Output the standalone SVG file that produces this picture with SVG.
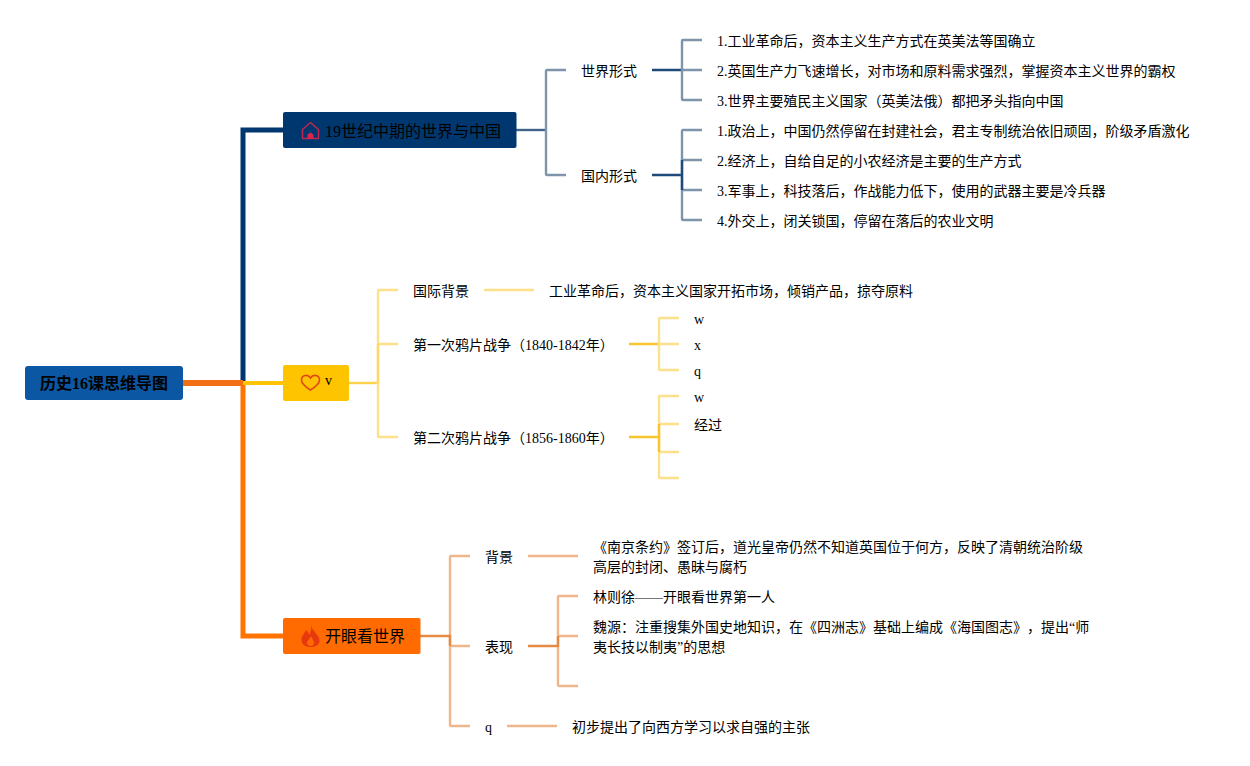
<svg xmlns="http://www.w3.org/2000/svg" width="1250" height="766" viewBox="0 0 1250 766">
<style>
text{font-family:"Liberation Serif","Noto Sans CJK SC",serif;font-size:14px;fill:#000;text-spacing-trim:space-all}
.t16{font-size:16px}
path{fill:none}
.n1{stroke:#7d94ab;stroke-width:2.400}
.n1d{stroke:#1d4a78;stroke-width:2.400}
.y1{stroke:#fde08a;stroke-width:2.400}
.y1d{stroke:#f9c52e;stroke-width:2.400}
.o1{stroke:#efb68c;stroke-width:2.400}
.o1d{stroke:#e58a42;stroke-width:2.400}
</style>
<rect width="1250" height="766" fill="#fff"/>
<g id="connectors">
<path d="M243 383V130H283" stroke="#00376f" stroke-width="5"/>
<path d="M243 383V636H283" stroke="#ff7300" stroke-width="5"/>
<path d="M243 383H283" stroke="#ffc400" stroke-width="4"/>
<path d="M183 383H243" stroke="#f36f13" stroke-width="6"/>
<path d="M516 130H546" stroke="#3f6389" stroke-width="2.400"/>
<path class="n1" d="M566 70H547Q546 70 546 71V174Q546 175 547 175H566"/>
<path class="n1d" d="M652 70H682M652 175H682"/>
<path class="n1" d="M702 40H683Q682 40 682 41V99Q682 100 683 100H702M682 70H702"/>
<path class="n1" d="M702 130H683Q682 130 682 131V219Q682 220 683 220H702M682 160H702M682 190H702"/>
<path class="n1d" d="M682 160V190"/>
<path d="M348 383H378" stroke="#fdd24f" stroke-width="2.400"/>
<path class="y1" d="M398 290H379Q378 290 378 291V436Q378 437 379 437H398M378 344H398"/>
<path d="M378 344V383" stroke="#fcd76a" stroke-width="2.400"/>
<path class="y1" d="M484 290H534"/>
<path class="y1d" d="M629 344H659M629 437H659"/>
<path class="y1" d="M679 318H660Q659 318 659 319V369Q659 370 660 370H679M659 344H679"/>
<path class="y1" d="M679 396H660Q659 396 659 397V477Q659 478 660 478H679M659 424H679M659 452H679"/>
<path class="y1d" d="M659 424V452"/>
<path class="o1" d="M470 556H451Q450 556 450 557V725Q450 726 451 726H470M450 646H470"/>
<path class="o1d" d="M420 636H450V646"/>
<path class="o1" d="M528 556H578"/>
<path class="o1" d="M578 596H559Q558 596 558 597V685Q558 686 559 686H578M558 636H578"/>
<path class="o1d" d="M528 646H558V636"/>
<path class="o1" d="M507 726H557"/>
</g>
<g id="root"><rect x="25" y="366" width="158" height="34" rx="3" fill="#0b57a4"/><text class="t16" x="104" y="389" text-anchor="middle" font-weight="bold">历史16课思维导图</text></g>
<g id="b1"><rect x="283" y="112" width="233.500" height="36" rx="2" fill="#00376f"/>
<path d="M302.500 138.500V129.500L310.500 122.500L318.500 129.500V138.500Z" stroke="#c2254f" stroke-width="1.500" stroke-linejoin="round"/><path d="M307.500 138.500V134.500L310.500 132.500L313.500 134.500V138.500Z" style="fill:#d9264f"/>
<text class="t16" x="325" y="137">19世纪中期的世界与中国</text></g>
<g id="b2"><rect x="283" y="365" width="66" height="36" rx="2" fill="#ffc400"/>
<path d="M310.500 390C304 386 301.500 383 301.500 380C301.500 374.500 308 374 310.500 378C313 374 319.500 374.500 319.500 380C319.500 383 317 386 310.500 390Z" stroke="#e0481a" stroke-width="1.600"/>
<text x="325" y="385">v</text></g>
<g id="b3"><rect x="283" y="618" width="137.500" height="36" rx="2" fill="#ff6b00"/>
<path fill-rule="evenodd" d="M311 625C312 631 319.500 635 319.500 640.500C319.500 644.500 316 647 310.500 647C305.500 647 301.500 644.500 301.500 639.500C301.500 635.500 304.500 634 306 630C308 632 309 633 309 635C311 632 311.500 629 311 625ZM311 636C310 639 307 640.500 307 643C307 645 308.500 646 310.500 646C312.500 646 314 645 314 643C314 640.500 312 639 311 636Z" style="fill:#e8380d"/>
<text class="t16" x="325" y="642">开眼看世界</text></g>
<g id="n1"><text x="581" y="76">世界形式</text></g>
<g id="n2"><text x="581" y="181">国内形式</text></g>
<g id="n3"><text x="717" y="46">1.工业革命后，资本主义生产方式在英美法等国确立</text></g>
<g id="n4"><text x="717" y="76">2.英国生产力飞速增长，对市场和原料需求强烈，掌握资本主义世界的霸权</text></g>
<g id="n5"><text x="717" y="106">3.世界主要殖民主义国家（英美法俄）都把矛头指向中国</text></g>
<g id="n6"><text x="717" y="136">1.政治上，中国仍然停留在封建社会，君主专制统治依旧顽固，阶级矛盾激化</text></g>
<g id="n7"><text x="717" y="166">2.经济上，自给自足的小农经济是主要的生产方式</text></g>
<g id="n8"><text x="717" y="196">3.军事上，科技落后，作战能力低下，使用的武器主要是冷兵器</text></g>
<g id="n9"><text x="717" y="226">4.外交上，闭关锁国，停留在落后的农业文明</text></g>
<g id="n10"><text x="413" y="296">国际背景</text></g>
<g id="n11"><text x="549" y="296">工业革命后，资本主义国家开拓市场，倾销产品，掠夺原料</text></g>
<g id="n12"><text x="413" y="350">第一次鸦片战争（1840-1842年）</text></g>
<g id="n13"><text x="694" y="324">w</text></g>
<g id="n14"><text x="694" y="350">x</text></g>
<g id="n15"><text x="694" y="376">q</text></g>
<g id="n16"><text x="413" y="443">第二次鸦片战争（1856-1860年）</text></g>
<g id="n17"><text x="694" y="402">w</text></g>
<g id="n18"><text x="694" y="430">经过</text></g>
<g id="n19"><text x="485" y="562">背景</text></g>
<g id="n20"><text x="593" y="552">《南京条约》签订后，道光皇帝仍然不知道英国位于何方，反映了清朝统治阶级</text><text x="593" y="572">高层的封闭、愚昧与腐朽</text></g>
<g id="n21"><text x="485" y="652">表现</text></g>
<g id="n22"><text x="593" y="602">林则徐——开眼看世界第一人</text></g>
<g id="n23"><text x="593" y="632">魏源：注重搜集外国史地知识，在《四洲志》基础上编成《海国图志》，提出“师</text><text x="593" y="652">夷长技以制夷”的思想</text></g>
<g id="n24"><text x="485" y="732">q</text></g>
<g id="n25"><text x="572" y="732">初步提出了向西方学习以求自强的主张</text></g>
</svg>
